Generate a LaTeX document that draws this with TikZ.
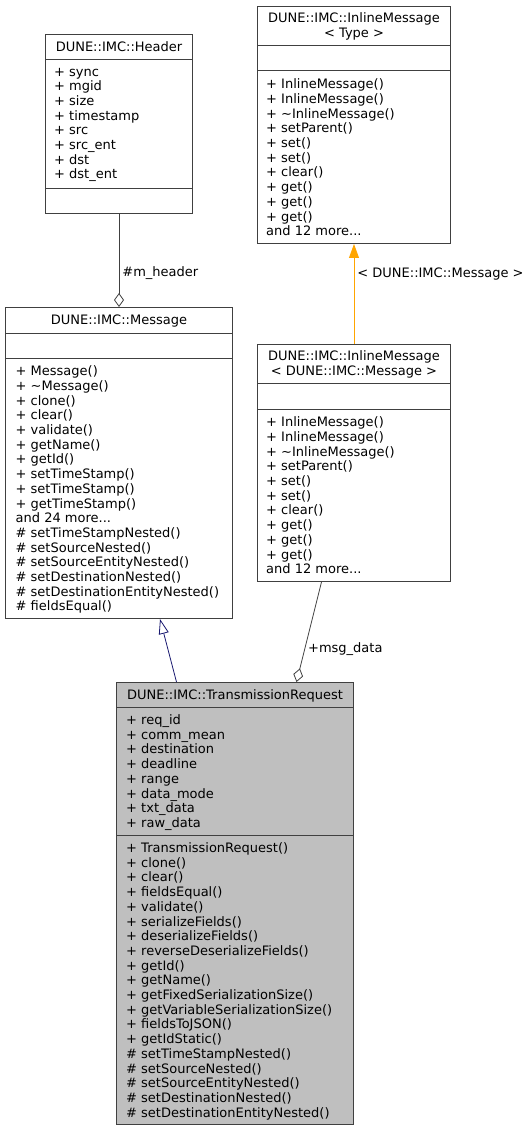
\documentclass[tikz,border=0pt]{standalone}
\usepackage{fontspec}
\setmainfont{DejaVu Sans}
\usetikzlibrary{arrows.meta}
\definecolor{boxline}{HTML}{404040}
\definecolor{trgray}{HTML}{BFBFBF}
\definecolor{inheritblue}{HTML}{191970}
\definecolor{tmplorange}{HTML}{FFA500}
\tikzset{
  classbox/.style={draw=boxline, line width=1pt, fill=white, anchor=north west, inner sep=0pt},
  sepline/.style={draw=boxline, line width=1pt},
  members/.style={anchor=north west, align=left, inner sep=0pt, execute at begin node=\strut},
  usage/.style={draw=boxline, line width=0.8pt},
  edgelabel/.style={inner sep=3pt, anchor=west}
}
\begin{document}
\begin{tikzpicture}[x=1pt, y=-1pt, font=\fontsize{13}{14.7}\selectfont]
    \useasboundingbox (0,0) rectangle (528,1131);

    % Header
    \node[classbox, minimum width=147pt, minimum height=179pt] (hdr) at (45,34) {};
    \draw[sepline] ([yshift=-26pt]hdr.north west) -- ([yshift=-26pt]hdr.north east);
    \draw[sepline] ([yshift=-155pt]hdr.north west) -- ([yshift=-155pt]hdr.north east);
    \node[anchor=base, inner sep=0pt] (hdr-title) at ([yshift=-17.5pt]hdr.north) {DUNE::IMC::Header};
    \node[members] (hdr-attr) at ([xshift=9pt, yshift=-33.7pt]hdr.north west)
        {+ sync\\+ mgid\\+ size\\+ timestamp\\+ src\\+ src\_ent\\+ dst\\+ dst\_ent};

    % InlineMessage< Type >
    \node[classbox, minimum width=193pt, minimum height=237pt] (imt) at (257,6) {};
    \draw[sepline] ([yshift=-40pt]imt.north west) -- ([yshift=-40pt]imt.north east);
    \draw[sepline] ([yshift=-65pt]imt.north west) -- ([yshift=-65pt]imt.north east);
    \node[anchor=north, align=center, inner sep=0pt, execute at begin node=\strut] (imt-title)
        at ([yshift=-6.7pt]imt.north) {DUNE::IMC::InlineMessage\\< Type >};
    \node[members] (imt-meth) at ([xshift=9pt, yshift=-72.7pt]imt.north west)
        {+ InlineMessage()\\+ InlineMessage()\\+ \textasciitilde InlineMessage()\\+ setParent()\\+ set()\\+ set()\\+ clear()\\+ get()\\+ get()\\+ get()\\and 12 more...};

    % Message
    \node[classbox, minimum width=227pt, minimum height=311pt] (msg) at (5,307) {};
    \draw[sepline] ([yshift=-26pt]msg.north west) -- ([yshift=-26pt]msg.north east);
    \draw[sepline] ([yshift=-51pt]msg.north west) -- ([yshift=-51pt]msg.north east);
    \node[anchor=base, inner sep=0pt] (msg-title) at ([yshift=-17.5pt]msg.north) {DUNE::IMC::Message};
    \node[members] (msg-meth) at ([xshift=10.5pt, yshift=-58.7pt]msg.north west)
        {+ Message()\\+ \textasciitilde Message()\\+ clone()\\+ clear()\\+ validate()\\+ getName()\\+ getId()\\+ setTimeStamp()\\+ setTimeStamp()\\+ getTimeStamp()\\and 24 more...\\\# setTimeStampNested()\\\# setSourceNested()\\\# setSourceEntityNested()\\\# setDestinationNested()\\\# setDestinationEntityNested()\\\# fieldsEqual()};

    % InlineMessage< Message >
    \node[classbox, minimum width=193pt, minimum height=237pt] (imm) at (257,344) {};
    \draw[sepline] ([yshift=-39pt]imm.north west) -- ([yshift=-39pt]imm.north east);
    \draw[sepline] ([yshift=-65pt]imm.north west) -- ([yshift=-65pt]imm.north east);
    \node[anchor=north, align=center, inner sep=0pt, execute at begin node=\strut] (imm-title)
        at ([yshift=-6.5pt]imm.north) {DUNE::IMC::InlineMessage\\< DUNE::IMC::Message >};
    \node[members] (imm-meth) at ([xshift=9pt, yshift=-72.7pt]imm.north west)
        {+ InlineMessage()\\+ InlineMessage()\\+ \textasciitilde InlineMessage()\\+ setParent()\\+ set()\\+ set()\\+ clear()\\+ get()\\+ get()\\+ get()\\and 12 more...};

    % TransmissionRequest
    \node[classbox, fill=trgray, minimum width=237pt, minimum height=442pt] (tr) at (116,682) {};
    \draw[sepline] ([yshift=-25pt]tr.north west) -- ([yshift=-25pt]tr.north east);
    \draw[sepline] ([yshift=-153pt]tr.north west) -- ([yshift=-153pt]tr.north east);
    \node[anchor=base, inner sep=0pt] (tr-title) at ([yshift=-17pt]tr.north) {DUNE::IMC::TransmissionRequest};
    \node[members] (tr-attr) at ([xshift=10pt, yshift=-32.5pt]tr.north west)
        {+ req\_id\\+ comm\_mean\\+ destination\\+ deadline\\+ range\\+ data\_mode\\+ txt\_data\\+ raw\_data};
    \node[members] (tr-meth) at ([xshift=10pt, yshift=-160.5pt]tr.north west)
        {+ TransmissionRequest()\\+ clone()\\+ clear()\\+ fieldsEqual()\\+ validate()\\+ serializeFields()\\+ deserializeFields()\\+ reverseDeserializeFields()\\+ getId()\\+ getName()\\+ getFixedSerializationSize()\\+ getVariableSerializationSize()\\+ fieldsToJSON()\\+ getIdStatic()\\\# setTimeStampNested()\\\# setSourceNested()\\\# setSourceEntityNested()\\\# setDestinationNested()\\\# setDestinationEntityNested()};

    % Relations
    \draw[usage, {Diamond[open, fill=white, length=14pt, width=10pt]}-] (msg.north) -- (hdr.south)
        node[edgelabel, pos=0.36] {\#m\_header};
    \draw[usage, tmplorange, -{Triangle[length=14pt, width=10pt]}] (imm.north) -- (imt.south)
        node[edgelabel, pos=0.7, text=black] {< DUNE::IMC::Message >};
    \draw[usage, {Diamond[open, fill=white, length=14pt, width=10pt]}-]
        ([xshift=61.5pt]tr.north) -- ([xshift=-32.5pt]imm.south)
        node[edgelabel, pos=0.33] {+msg\_data};
    \draw[usage, inheritblue, -{Triangle[open, fill=white, length=15pt, width=10pt]}]
        ([xshift=-58.5pt]tr.north) -- ([xshift=41pt]msg.south);
\end{tikzpicture}
\end{document}
